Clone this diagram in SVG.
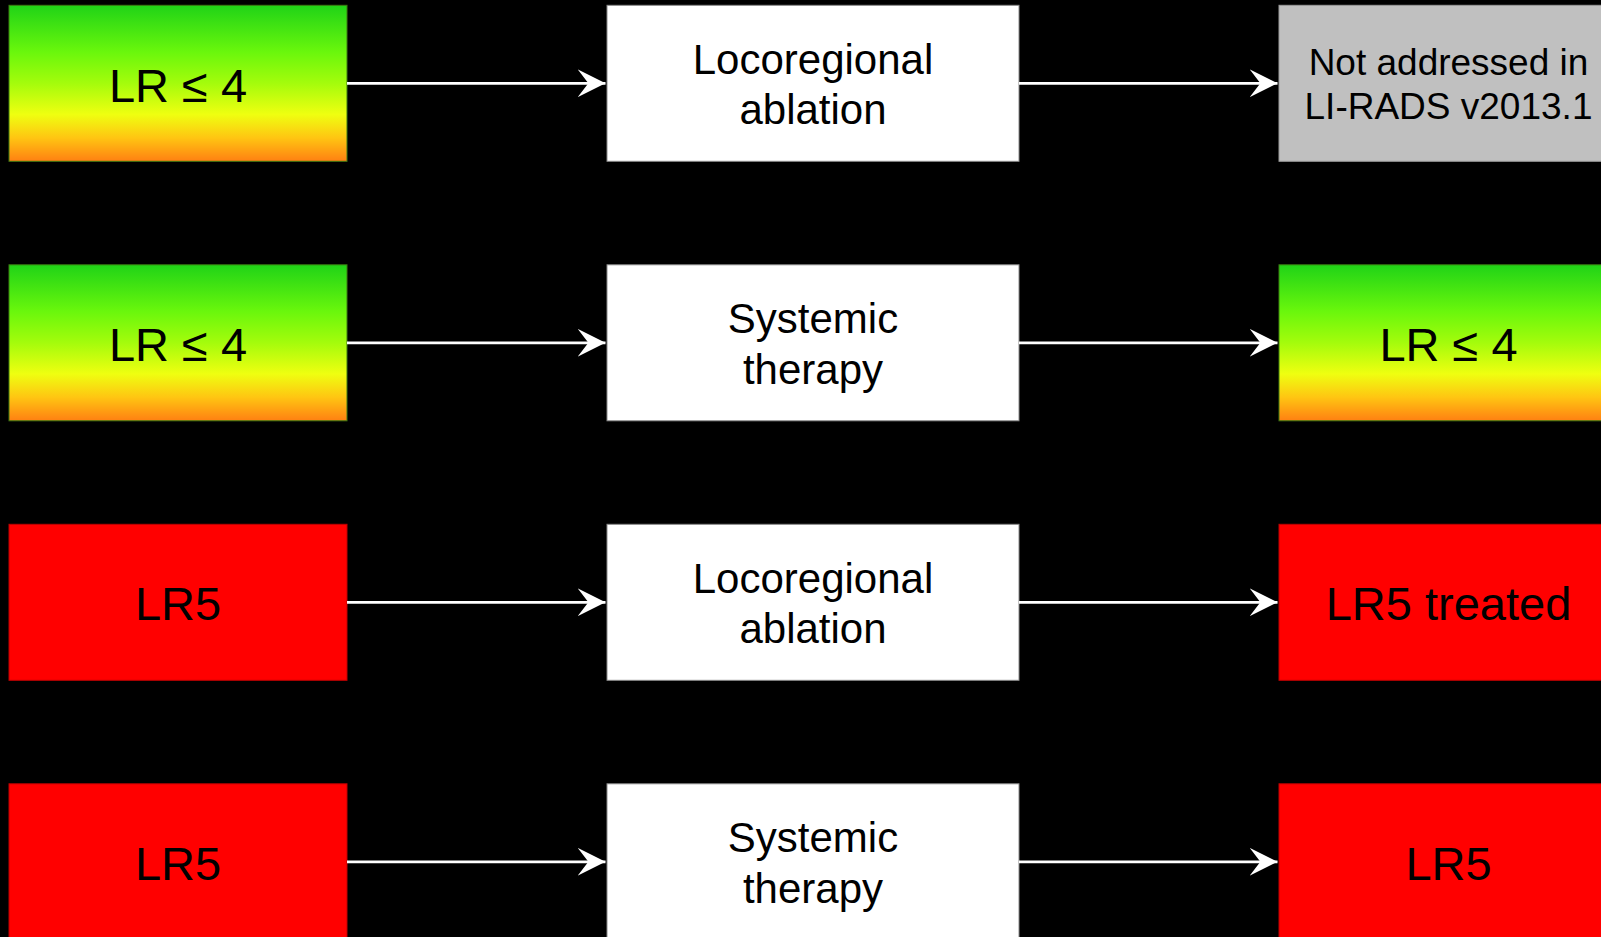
<svg xmlns="http://www.w3.org/2000/svg" width="1601" height="937" viewBox="0 0 1601 937">
<defs>
<linearGradient id="gy" x1="0" y1="0" x2="0" y2="1">
<stop offset="0" stop-color="#20d317"/>
<stop offset="0.3" stop-color="#6af70c"/>
<stop offset="0.5" stop-color="#a4fc0c"/>
<stop offset="0.7" stop-color="#efff10"/>
<stop offset="0.85" stop-color="#ffc512"/>
<stop offset="1" stop-color="#ff8012"/>
</linearGradient>
<marker id="ah" markerUnits="userSpaceOnUse" markerWidth="30" markerHeight="30" viewBox="-26 -14 28 28" refX="0" refY="0" orient="auto">
<path d="M0,0 L-26,-13 L-16,0 L-26,13 Z" fill="#fff"/>
</marker>
<style>
.bg{fill:#000}
.grad{fill:url(#gy);stroke:#3c7a12;stroke-width:1}
.red{fill:#ff0000;stroke:#c00000;stroke-width:1}
.wht{fill:#fff;stroke:#8a8a8a;stroke-width:1}
.gry{fill:#c0c0c0;stroke:#9a9a9a;stroke-width:1}
text{font-family:"Liberation Sans",Arial,sans-serif;fill:#000;text-anchor:middle}
.big{font-size:47px}
.mid{font-size:42px}
.sm{font-size:37px}
.con{stroke:#fff;stroke-width:2.7;fill:none;marker-end:url(#ah)}
</style>
</defs>
<rect class="bg" x="0" y="0" width="1601" height="937"/>

<g id="n1a"><rect class="grad" x="9" y="5.3" width="338" height="156"/><text class="big" x="178" y="101.7">LR ≤ 4</text></g>
<g id="n1b"><rect class="wht" x="607" y="5.3" width="412" height="156"/><text class="mid" x="813" y="74">Locoregional</text><text class="mid" x="813" y="124.3">ablation</text></g>
<g id="n1c"><rect class="gry" x="1279" y="5.3" width="340" height="156"/><text class="sm" x="1448.5" y="75">Not addressed in</text><text class="sm" x="1448.5" y="119">LI-RADS v2013.1</text></g>

<g id="n2a"><rect class="grad" x="9" y="264.8" width="338" height="156"/><text class="big" x="178" y="361.2">LR ≤ 4</text></g>
<g id="n2b"><rect class="wht" x="607" y="264.8" width="412" height="156"/><text class="mid" x="813" y="333.3">Systemic</text><text class="mid" x="813" y="383.6">therapy</text></g>
<g id="n2c"><rect class="grad" x="1279" y="264.8" width="340" height="156"/><text class="big" x="1448.5" y="361.2">LR ≤ 4</text></g>

<g id="n3a"><rect class="red" x="9" y="524.3" width="338" height="156"/><text class="big" x="178" y="620.4">LR5</text></g>
<g id="n3b"><rect class="wht" x="607" y="524.3" width="412" height="156"/><text class="mid" x="813" y="593">Locoregional</text><text class="mid" x="813" y="643.3">ablation</text></g>
<g id="n3c"><rect class="red" x="1279" y="524.3" width="340" height="156"/><text class="big" x="1448.5" y="620.4">LR5 treated</text></g>

<g id="n4a"><rect class="red" x="9" y="783.8" width="338" height="156"/><text class="big" x="178" y="879.9">LR5</text></g>
<g id="n4b"><rect class="wht" x="607" y="783.8" width="412" height="156"/><text class="mid" x="813" y="852.3">Systemic</text><text class="mid" x="813" y="902.6">therapy</text></g>
<g id="n4c"><rect class="red" x="1279" y="783.8" width="340" height="156"/><text class="big" x="1448.5" y="879.9">LR5</text></g>

<g id="connectors">
<line class="con" x1="347" y1="83.3" x2="605.5" y2="83.3"/>
<line class="con" x1="1019" y1="83.3" x2="1277.5" y2="83.3"/>
<line class="con" x1="347" y1="342.8" x2="605.5" y2="342.8"/>
<line class="con" x1="1019" y1="342.8" x2="1277.5" y2="342.8"/>
<line class="con" x1="347" y1="602.3" x2="605.5" y2="602.3"/>
<line class="con" x1="1019" y1="602.3" x2="1277.5" y2="602.3"/>
<line class="con" x1="347" y1="861.8" x2="605.5" y2="861.8"/>
<line class="con" x1="1019" y1="861.8" x2="1277.5" y2="861.8"/>
</g>
</svg>
